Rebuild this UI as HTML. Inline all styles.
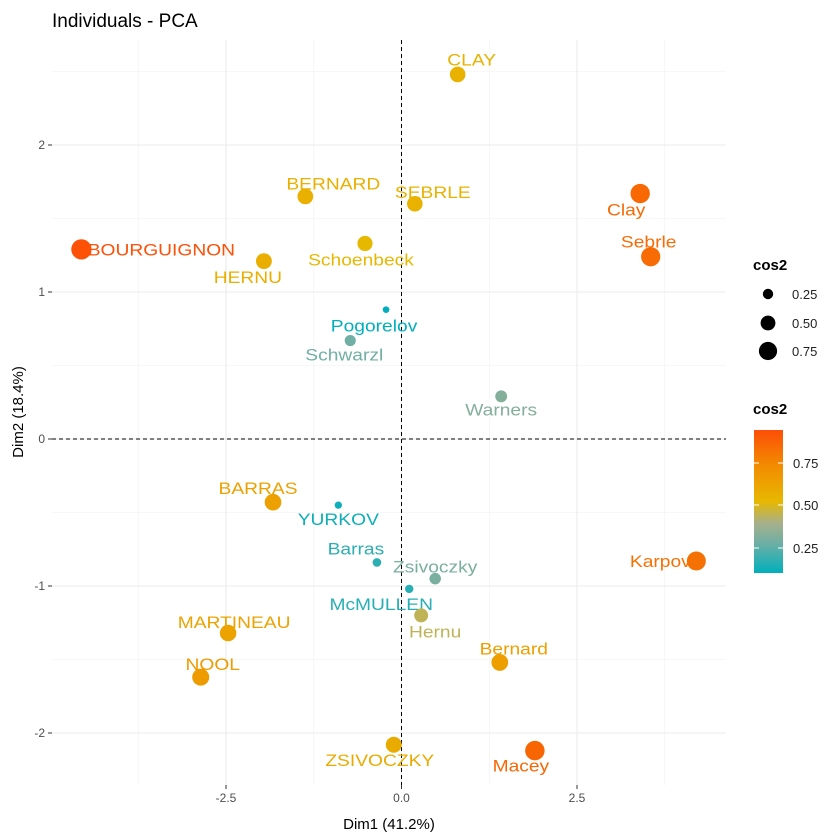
<!DOCTYPE html>
<html><head><meta charset="utf-8"><style>
body{margin:0;background:#fff;}
svg{display:block;font-family:"Liberation Sans",sans-serif;}
</style></head><body>
<svg id="chart" width="840" height="840">
<defs>
<linearGradient id="cg" x1="0" y1="1" x2="0" y2="0">
<stop offset="0" stop-color="#00AFBB"/><stop offset="0.2" stop-color="#6AAFA6"/><stop offset="0.35" stop-color="#A8B08A"/><stop offset="0.5" stop-color="#E7B800"/><stop offset="0.75" stop-color="#F28C00"/><stop offset="1" stop-color="#FC4E07"/>
</linearGradient>
</defs>
<text x="52" y="27" font-size="19" fill="#000">Individuals - PCA</text>
<g id="grid"></g>
<g id="axes"></g>
<g id="marks"></g>
<text x="389" y="829" font-size="15" text-anchor="middle">Dim1 (41.2%)</text>
<text transform="translate(23,412) rotate(-90)" font-size="15" text-anchor="middle">Dim2 (18.4%)</text>
<g>
<text x="753" y="270" font-size="15" font-weight="bold">cos2</text>
<circle cx="768" cy="294" r="5.2" fill="#000"/><text x="792" y="299" font-size="13" fill="#222">0.25</text>
<circle cx="768" cy="323" r="7.4" fill="#000"/><text x="792" y="328" font-size="13" fill="#222">0.50</text>
<circle cx="768" cy="351" r="9.1" fill="#000"/><text x="792" y="356" font-size="13" fill="#222">0.75</text>
</g>
<g>
<text x="753" y="414" font-size="15" font-weight="bold">cos2</text>
<rect x="754" y="430" width="29" height="143" fill="url(#cg)"/>
<g stroke="#fff" stroke-width="1"><line x1="754" y1="463" x2="759" y2="463"/><line x1="778" y1="463" x2="783" y2="463"/>
<line x1="754" y1="505" x2="759" y2="505"/><line x1="778" y1="505" x2="783" y2="505"/>
<line x1="754" y1="548" x2="759" y2="548"/><line x1="778" y1="548" x2="783" y2="548"/></g>
<text x="793" y="468" font-size="13" fill="#222">0.75</text>
<text x="793" y="510" font-size="13" fill="#222">0.50</text>
<text x="793" y="553" font-size="13" fill="#222">0.25</text>
</g>
</svg>
<script>
const names=["BOURGUIGNON","BERNARD","SEBRLE","CLAY","Clay","Sebrle","HERNU","Schoenbeck","Pogorelov","Schwarzl","Warners","BARRAS","YURKOV","Barras","Zsivoczky","McMULLEN","Hernu","Karpov","Bernard","MARTINEAU","NOOL","ZSIVOCZKY","Macey"];
const dim1=[-4.56,-1.37,0.19,0.80,3.40,3.55,-1.96,-0.52,-0.22,-0.73,1.42,-1.83,-0.90,-0.35,0.48,0.11,0.28,4.20,1.40,-2.47,-2.86,-0.11,1.90];
const dim2=[1.29,1.65,1.60,2.48,1.67,1.24,1.21,1.33,0.88,0.67,0.29,-0.43,-0.45,-0.84,-0.95,-1.02,-1.20,-0.83,-1.52,-1.32,-1.62,-2.08,-2.12];
const cos2=[0.93,0.56,0.55,0.55,0.85,0.84,0.57,0.52,0.10,0.28,0.32,0.63,0.12,0.17,0.30,0.16,0.44,0.82,0.64,0.62,0.66,0.58,0.86];
const xTicks=[-2.5,0,2.5];
const yTicks=[-2,-1,0,1,2];
// label offsets (layout)
const ldx=[80,28,18,14,-14,-2,-16,-4,-12,-6,0,-15,0,-21,0,-28,14,-36,14,6,12,-14,-14];
const ldy=[6,-7,-6,-9,22,-9,22,22,22,20,19,-8,20,-8,-6,21,22,6,-8,-5,-7,21,21];
const X=v=>401.5+v*70.2, Y=v=>439-v*147;
const PL=52,PR=726,PT=40,PB=785;
const ns="http://www.w3.org/2000/svg";
function mk(t,a,p){const e=document.createElementNS(ns,t);for(const k in a)e.setAttribute(k,a[k]);p.appendChild(e);return e;}
const grid=document.getElementById('grid'),axes=document.getElementById('axes'),marks=document.getElementById('marks');
[-3.75,-1.25,1.25,3.75].forEach(v=>{const l=mk('line',{x1:X(v),x2:X(v),y1:PT,y2:PB,stroke:'#f0f0f0','stroke-width':0.6},grid);
});
[-1.5,-0.5,0.5,1.5,2.5].forEach(v=>{const l=mk('line',{x1:PL,x2:PR,y1:Y(v),y2:Y(v),stroke:'#f0f0f0','stroke-width':0.6},grid);
});
xTicks.forEach(v=>{const l=mk('line',{x1:X(v),x2:X(v),y1:PT,y2:PB,stroke:'#ebebeb','stroke-width':1.1},grid);

mk('line',{x1:X(v),x2:X(v),y1:PB,y2:PB+4,stroke:'#333'},axes);
const t=mk('text',{x:X(v),y:PB+17,'font-size':12,fill:'#4d4d4d','text-anchor':'middle'},axes);t.textContent=v.toFixed(1);
});
yTicks.forEach(v=>{const l=mk('line',{x1:PL,x2:PR,y1:Y(v),y2:Y(v),stroke:'#ebebeb','stroke-width':1.1},grid);

mk('line',{x1:PL-4,x2:PL,y1:Y(v),y2:Y(v),stroke:'#333'},axes);
const t=mk('text',{x:PL-7,y:Y(v)+4,'font-size':12,fill:'#4d4d4d','text-anchor':'end'},axes);t.textContent=String(v);
});
const h0=mk('line',{x1:PL,x2:PR,y1:Y(0),y2:Y(0),stroke:'#000','stroke-dasharray':'4,3'},axes);

const v0=mk('line',{x1:X(0),x2:X(0),y1:PT,y2:PB,stroke:'#000','stroke-dasharray':'4,3'},axes);

function hex(h){return [1,3,5].map(i=>parseInt(h.substr(i,2),16));}
const stopsT=[0,0.2,0.35,0.5,0.75,1];
const stopsC=['#00AFBB','#6AAFA6','#A8B08A','#E7B800','#F28C00','#FC4E07'].map(hex);
const cmin=0.1,cmax=0.94;
function col(c){let t=Math.max(0,Math.min(1,(c-cmin)/(cmax-cmin)));let k=0;while(k<stopsT.length-2&&t>stopsT[k+1])k++;
const f=(t-stopsT[k])/(stopsT[k+1]-stopsT[k]);const a=stopsC[k],b=stopsC[k+1];
return 'rgb('+a.map((v,i)=>Math.round(v+(b[i]-v)*f)).join(',')+')';}
names.forEach((n,i)=>{const cx=X(dim1[i]),cy=Y(dim2[i]),c=col(cos2[i]);
const p=mk('circle',{cx:cx,cy:cy,r:Math.sqrt(cos2[i])*10.5,fill:c},marks);


const t=mk('text',{x:cx+ldx[i],y:cy+ldy[i],'font-size':17,fill:c,'text-anchor':'middle'},marks);t.textContent=n;


const w=t.getComputedTextLength();if(w>0){t.setAttribute('textLength',w*1.13);t.setAttribute('lengthAdjust','spacingAndGlyphs');}});
</script>
</body></html>
